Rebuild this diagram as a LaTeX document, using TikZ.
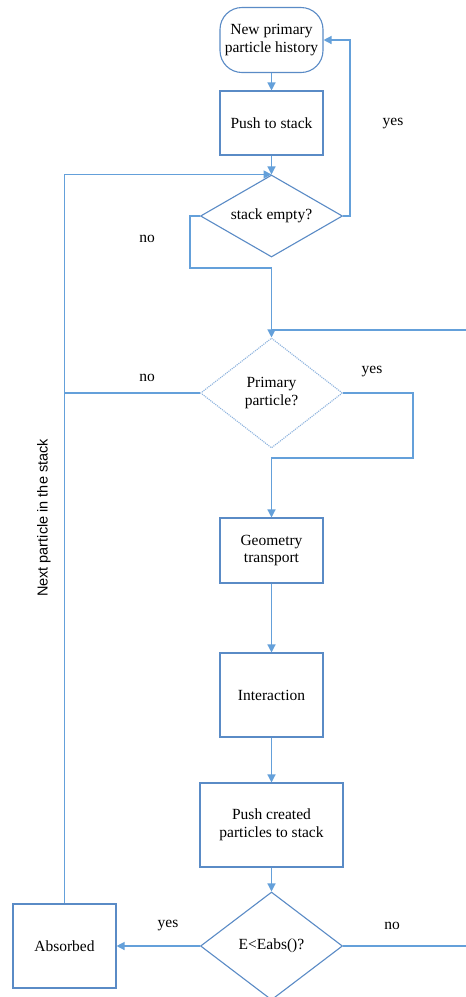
\documentclass[tikz,border=0pt]{standalone}
\usepackage{fontspec}
\setmainfont{Liberation Serif}
\newfontfamily\labsans{Liberation Sans}
\usetikzlibrary{shapes.geometric,arrows.meta}
\definecolor{boxblue}{HTML}{5A8BC6}
\definecolor{lineblue}{HTML}{64A0DA}
\definecolor{dotblue}{HTML}{8DB3DE}
\tikzset{
  every node/.style={font=\fontsize{15.5}{17.5}\selectfont},
  procbox/.style={draw=boxblue,line width=1.1pt,rectangle,align=center,inner sep=0pt},
  termbox/.style={procbox,rounded corners=22pt},
  decide/.style={draw=boxblue,line width=1.1pt,diamond,inner sep=0pt},
  conn/.style={draw=lineblue,line width=1.3pt},
  arr/.style={conn,-{Triangle[width=8pt,length=8pt]}},
  lab/.style={inner sep=0pt}
}
\begin{document}
\begin{tikzpicture}[x=1pt,y=-1pt]
\useasboundingbox (0,0) rectangle (466,997);
\fill[white] (0,0) rectangle (466,997);
% nodes
\node[termbox,minimum width=103pt,minimum height=65pt] (start) at (271.5,40) {New primary\\particle history};
\node[procbox,minimum width=103pt,minimum height=64pt] (push) at (271.5,123) {Push to stack};
\node[decide,minimum width=142pt,minimum height=82pt] (empty) at (271.5,216) {\makebox[0pt]{stack empty?}};
\node[decide,draw=dotblue,densely dotted,minimum width=142pt,minimum height=110pt] (prim) at (271.5,393) {\makebox[0pt]{\begin{tabular}{@{}c@{}}Primary\\particle?\end{tabular}}};
\node[procbox,minimum width=103pt,minimum height=65pt] (geo) at (271.5,550.5) {Geometry\\transport};
\node[procbox,minimum width=103pt,minimum height=84pt] (inter) at (271.5,695) {Interaction};
\node[procbox,minimum width=143pt,minimum height=84pt] (pushc) at (271.5,825) {Push created\\particles to stack};
\node[decide,minimum width=142pt,minimum height=108pt] (eabs) at (271.5,946) {\makebox[0pt]{E<Eabs()?}};
\node[procbox,minimum width=103pt,minimum height=84pt] (abs) at (64.5,946) {Absorbed};
% helper coordinates
\coordinate (n1) at (190,268);
\coordinate (y1) at (413,458);
\coordinate (r1) at (466,330);
\coordinate (r2) at (466,946);
% connectors
\draw[arr] (start.south) -- (push.north);
\draw[arr] (push.south) -- (empty.north);
\draw[arr] (abs.north) |- (empty.north);
\draw[arr] (empty.east) -- ++(7,0) |- (start.east);
\draw[arr] (empty.west) -| (n1) -| (prim.north);
\draw[conn] (r1) -- (prim.north |- r1);
\draw[conn] (prim.west) -- (abs.north |- prim.west);
\draw[arr] (prim.east) -| (y1) -| (geo.north);
\draw[arr] (geo.south) -- (inter.north);
\draw[arr] (inter.south) -- (pushc.north);
\draw[arr] (pushc.south) -- (eabs.north);
\draw[arr] (eabs.west) -- (abs.east);
\draw[conn] (eabs.east) -- (r2);
% labels
\node[lab] (l1) at (393,124) {yes};
\node[lab] (l2) at (147,239) {no};
\node[lab] (l3) at (147,378) {no};
\node[lab] (l4) at (372,372) {yes};
\node[lab] (l5) at (168,926) {yes};
\node[lab] (l6) at (392,926) {no};
\node[lab,rotate=90,font=\labsans\fontsize{14.5}{16}\selectfont] (l7) at (44,518) {Next particle in the stack};
\end{tikzpicture}
\end{document}
